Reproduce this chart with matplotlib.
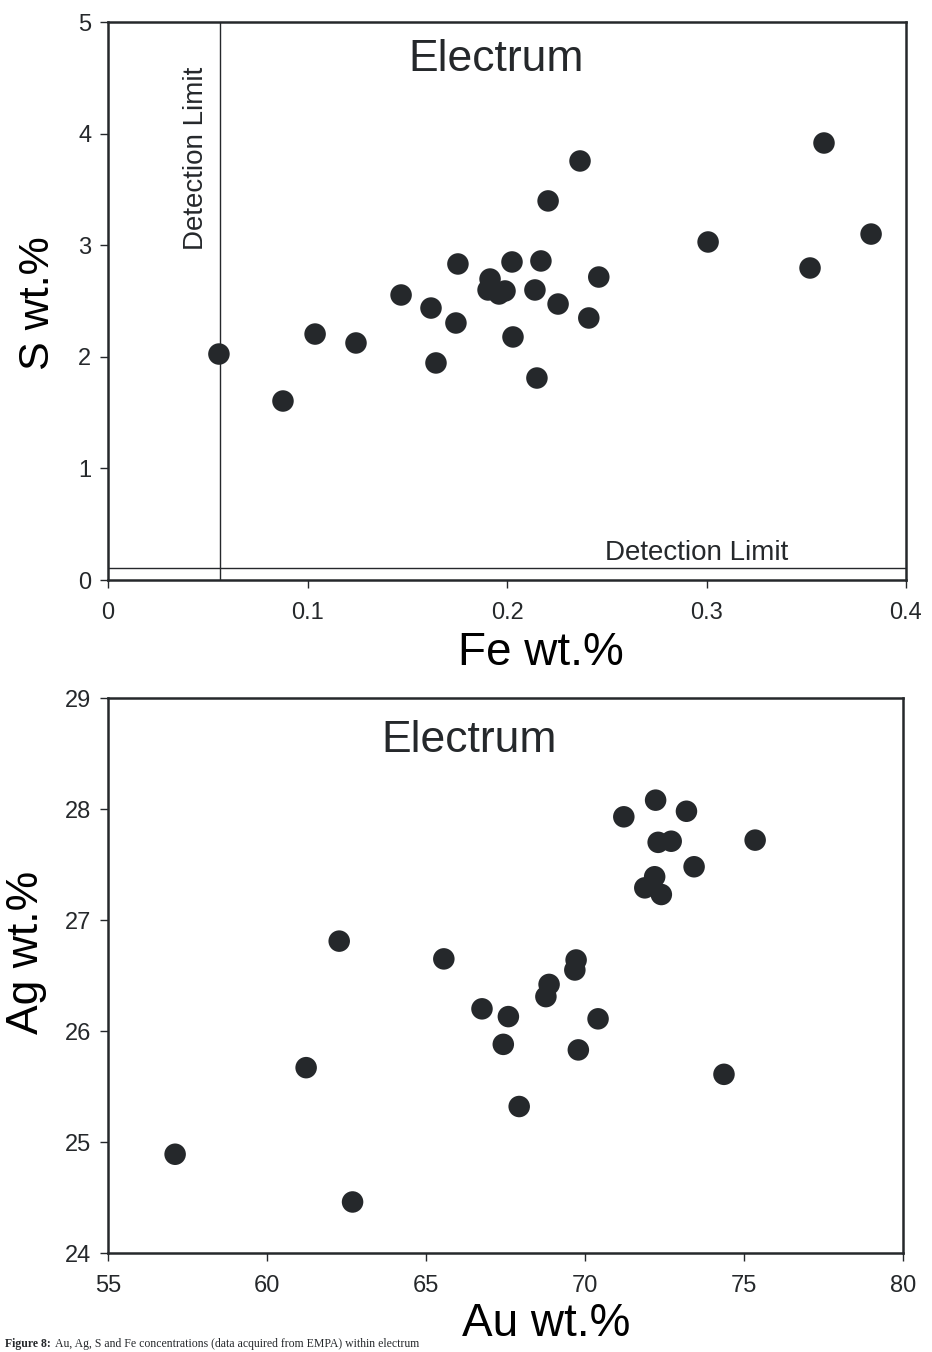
# Electrum EMPA data: S vs Fe and Ag vs Au scatter plots
import matplotlib
matplotlib.use("Agg")
import matplotlib.pyplot as plt
from matplotlib import font_manager

# ----------------------------------------------------------
# DATA
# ----------------------------------------------------------
fe_wt = [0.0556, 0.0877, 0.1038, 0.1243, 0.1469, 0.1619, 0.1644, 0.1744,
         0.1754, 0.1915, 0.1905, 0.1960, 0.1990, 0.2025, 0.2030, 0.2140,
         0.2150, 0.2170, 0.2206, 0.2256, 0.2366, 0.2410, 0.2460, 0.3008,
         0.3519, 0.3589, 0.3825]
s_wt = [2.025, 1.604, 2.204, 2.124, 2.554, 2.437, 1.945, 2.303,
        2.832, 2.697, 2.599, 2.563, 2.590, 2.850, 2.178, 2.599,
        1.810, 2.859, 3.397, 2.473, 3.755, 2.348, 2.715, 3.029,
        2.796, 3.916, 3.100]

au_wt = [57.11, 62.69, 61.23, 62.27, 65.56, 66.76, 67.59, 67.43, 67.93,
         68.87, 68.77, 69.72, 69.68, 69.79, 70.41, 71.22, 72.22, 73.19,
         72.30, 72.71, 75.35, 73.43, 72.19, 71.88, 72.40, 74.37]
ag_wt = [24.89, 24.46, 25.67, 26.81, 26.65, 26.20, 26.13, 25.88, 25.32,
         26.42, 26.31, 26.64, 26.55, 25.83, 26.11, 27.93, 28.08, 27.98,
         27.70, 27.71, 27.72, 27.48, 27.39, 27.29, 27.23, 25.61]

fe_limit = 0.056
s_limit = 0.105

top_xticks = [0, 0.1, 0.2, 0.3, 0.4]
top_xlabels = ["0", "0.1", "0.2", "0.3", "0.4"]
top_yticks = [0, 1, 2, 3, 4, 5]
bot_xticks = [55, 60, 65, 70, 75, 80]
bot_yticks = [24, 25, 26, 27, 28, 29]

caption_bold = "Figure 8:"
caption_rest = "Au, Ag, S and Fe concentrations (data acquired from EMPA) within electrum"

# ----------------------------------------------------------
# STYLE
# ----------------------------------------------------------
INK = "#25282b"
names = {f.name for f in font_manager.fontManager.ttflist}
NARROW = ["Liberation Sans Narrow", "Liberation Sans"] if "Liberation Sans Narrow" in names \
    else ["Liberation Sans"]
plt.rcParams["font.family"] = ["Liberation Sans", "DejaVu Sans"]
plt.rcParams["text.color"] = INK
plt.rcParams["axes.edgecolor"] = INK
plt.rcParams["xtick.color"] = INK
plt.rcParams["ytick.color"] = INK

fig = plt.figure(figsize=(9.32, 13.52), dpi=100)
ax1 = fig.add_axes([0.1159, 0.5710, 0.8562, 0.4127])
ax2 = fig.add_axes([0.1159, 0.0732, 0.8530, 0.4105])


def style_axes(ax):
    for sp in ax.spines.values():
        sp.set_linewidth(1.8)
    ax.tick_params(axis="both", direction="out", length=6, width=1.0)
    ax.tick_params(axis="y", labelsize=17, pad=6)
    ax.tick_params(axis="x", labelsize=17, pad=10)
    for lbl in ax.get_xticklabels():
        lbl.set_family(NARROW)


# ==========================================================
# TOP: S vs Fe
# ==========================================================
ax1.scatter(fe_wt, s_wt, s=240, color=INK, edgecolors="none", zorder=3)
ax1.axvline(fe_limit, color=INK, linewidth=1.0)
ax1.axhline(s_limit, color=INK, linewidth=1.0)
ax1.set_xlim(0, 0.4)
ax1.set_ylim(0, 5)
ax1.set_xticks(top_xticks)
ax1.set_xticklabels(top_xlabels)
ax1.set_yticks(top_yticks)
style_axes(ax1)

ax1.text(0.0442, 3.78, "Detection Limit", rotation=90, ha="center", va="center", fontsize=20)
ax1.text(0.249, 0.125, "Detection Limit", ha="left", va="bottom", fontsize=20)
ax1.text(0.486, 0.932, "Electrum", transform=ax1.transAxes, ha="center", va="center", fontsize=32)

ax1.set_xlabel("Fe wt.%", fontsize=33, family=NARROW, va="center")
ax1.xaxis.set_label_coords(0.543, -0.131)
ax1.set_ylabel("S wt.%", fontsize=31, va="center")
ax1.yaxis.set_label_coords(-0.0877, 0.496)

# ==========================================================
# BOTTOM: Ag vs Au
# ==========================================================
ax2.scatter(au_wt, ag_wt, s=240, color=INK, edgecolors="none", zorder=3)
ax2.set_xlim(55, 80)
ax2.set_ylim(24, 29)
ax2.set_xticks(bot_xticks)
ax2.set_yticks(bot_yticks)
style_axes(ax2)

ax2.text(0.454, 0.924, "Electrum", transform=ax2.transAxes, ha="center", va="center", fontsize=32)
ax2.set_xlabel("Au wt.%", fontsize=33, family=NARROW, va="center")
ax2.xaxis.set_label_coords(0.551, -0.128)
ax2.set_ylabel("Ag wt.%", fontsize=32, va="center")
ax2.yaxis.set_label_coords(-0.102, 0.542)

# ----------------------------------------------------------
# CAPTION (small, kept inside the bottom strip)
# ----------------------------------------------------------
fig.text(0.005, 0.0015, caption_bold, fontsize=8.5, fontweight="bold",
         family=["Liberation Serif"], va="bottom", ha="left")
fig.text(0.059, 0.0015, caption_rest, fontsize=8.5,
         family=["Liberation Serif"], va="bottom", ha="left")

fig.savefig("out.png", dpi=100)
